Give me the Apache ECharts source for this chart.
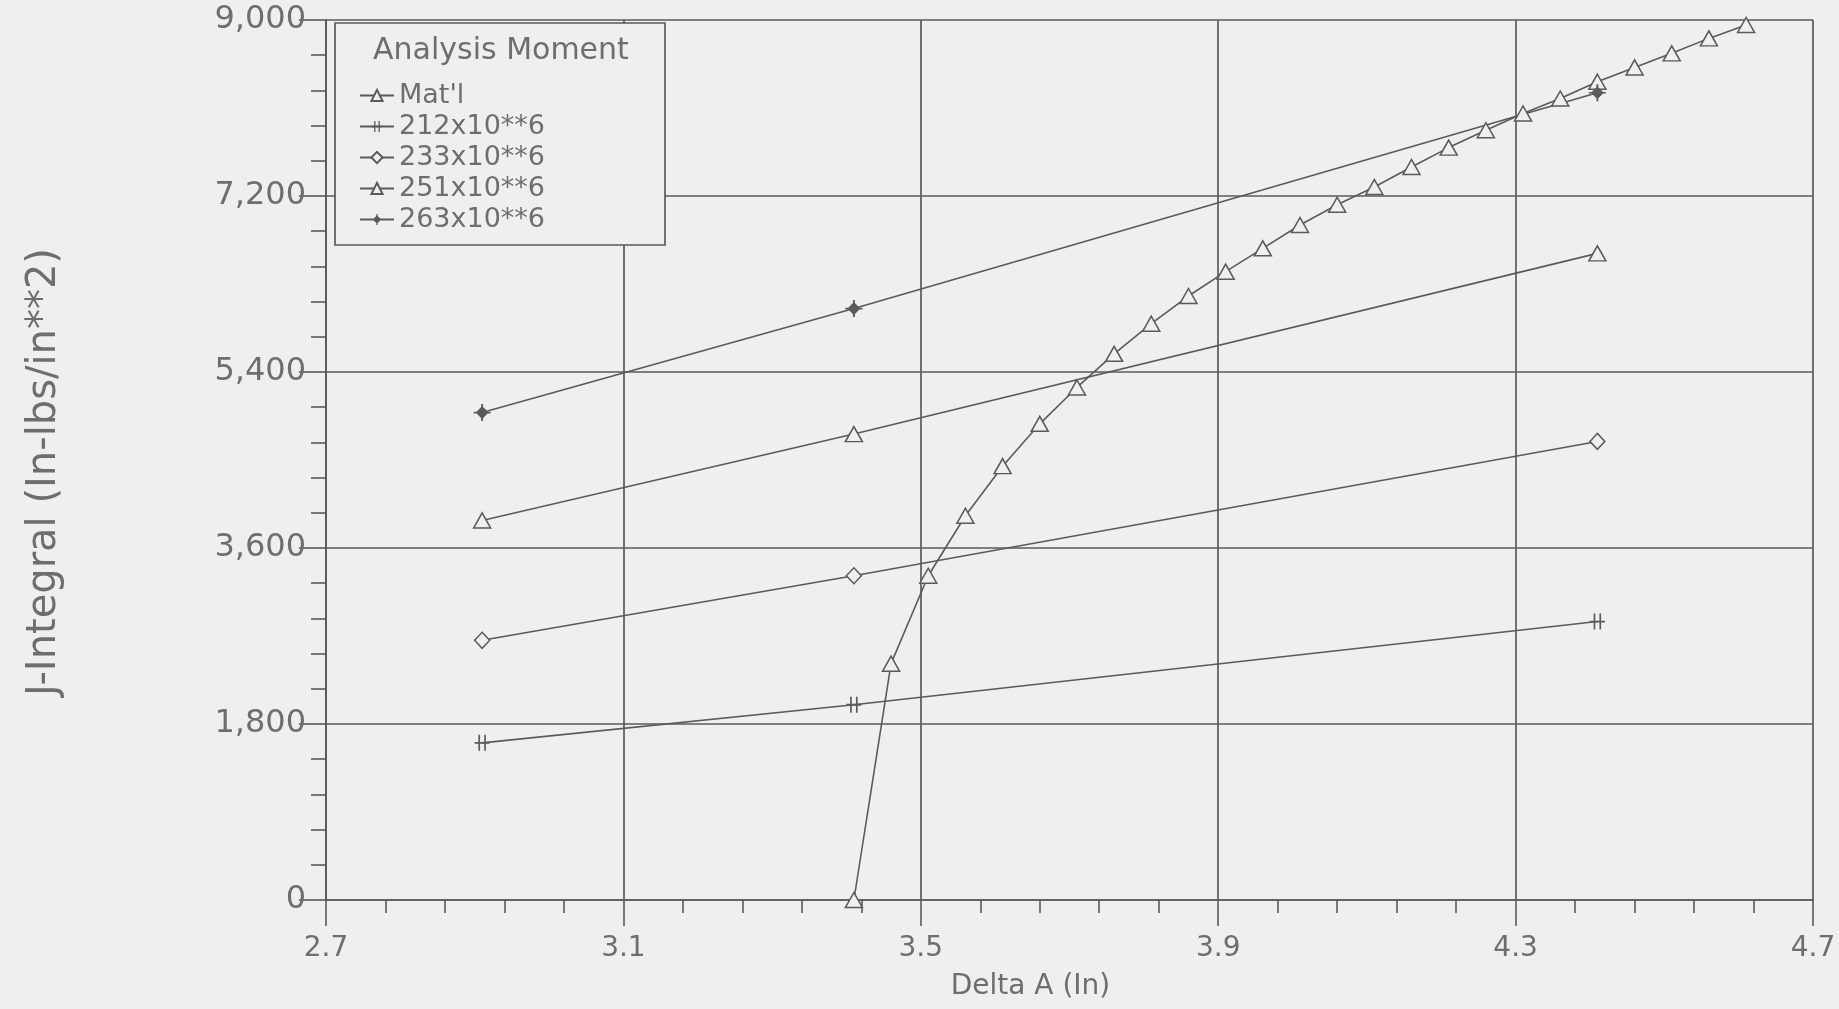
<!DOCTYPE html>
<html>
<head>
<meta charset="utf-8">
<script src="https://cdn.jsdelivr.net/npm/echarts@6/dist/echarts.min.js"></script>
<style>
html,body{margin:0;padding:0;background:#efefef;}
#chart{width:1839px;height:1009px;}
</style>
</head>
<body>
<div id="chart"></div>
<script>
// ---- data ----
const seriesNames = ["Mat'l", "212x10**6", "233x10**6", "251x10**6", "263x10**6"];
const xTicks = [2.7, 3.1, 3.5, 3.9, 4.3, 4.7];
const yTicks = [0, 1800, 3600, 5400, 7200, 9000];

const matX = [3.41, 3.46, 3.51, 3.56, 3.61, 3.66, 3.71, 3.76, 3.81, 3.86, 3.91, 3.96, 4.01,
              4.06, 4.11, 4.16, 4.21, 4.26, 4.31, 4.36, 4.41, 4.46, 4.51, 4.56, 4.61];
const matJ = [0, 2417, 3316, 3930, 4437, 4870, 5242, 5586, 5894, 6177, 6426, 6665, 6903,
              7110, 7292, 7497, 7695, 7872, 8044, 8197, 8369, 8515, 8659, 8812, 8949];

const momentX = [2.91, 3.41, 4.41];
const j212 = [1607, 1997, 2848];
const j233 = [2656, 3316, 4690];
const j251 = [3882, 4765, 6613];
const j263 = [4985, 6049, 8256];

// ---- chart ----
const BG = '#efefef';
const INK = '#5a5a5a';
const TXT = '#6e6e6e';
const FONT = '"DejaVu Sans", sans-serif';

function pairs(xs, ys) { return xs.map((x, i) => [x, ys[i]]); }

const hashPath = 'path://M-4,-8 h1.8 v16 h-1.8 Z M2.2,-8 h1.8 v16 h-1.8 Z M-8,-0.9 h16 v1.8 h-16 Z';
const crossDiamondPath = 'path://M0,-7 L6,0 L0,7 L-6,0 Z M-8,-0.9 L8,-0.9 L8,0.9 L-8,0.9 Z M-0.9,-9 L0.9,-9 L0.9,9 L-0.9,9 Z';

function lineSeries(name, data, symbol, size, filled) {
  return {
    name: name,
    type: 'line',
    data: data,
    symbol: symbol,
    symbolSize: size,
    showAllSymbol: true,
    lineStyle: { color: INK, width: 1.6 },
    itemStyle: filled
      ? { color: INK, borderWidth: 0 }
      : { color: BG, borderColor: INK, borderWidth: 1.5 },
    emphasis: { disabled: true },
    z: 2
  };
}

const chart = echarts.init(document.getElementById('chart'), null, { renderer: 'canvas' });

const option = {
  backgroundColor: BG,
  animation: false,
  textStyle: { fontFamily: FONT, color: TXT },
  grid: { left: 326, right: 26, top: 20, bottom: 109, containLabel: false },
  xAxis: {
    type: 'value',
    min: xTicks[0],
    max: xTicks[xTicks.length - 1],
    interval: 0.4,
    name: 'Delta A (In)',
    nameLocation: 'middle',
    nameGap: 73,
    nameTextStyle: { fontSize: 28, color: TXT, fontFamily: FONT, padding: [0, 78, 0, 0] },
    axisLine: { show: true, lineStyle: { color: INK, width: 1.7 } },
    axisTick: { show: true, length: 26, lineStyle: { color: INK, width: 1.6 } },
    minorTick: { show: true, splitNumber: 5, length: 13, lineStyle: { color: INK, width: 1.6 } },
    axisLabel: {
      fontSize: 28, color: TXT, margin: 35, fontFamily: FONT,
      formatter: v => Number(v).toFixed(1)
    },
    splitLine: { show: true, lineStyle: { color: INK, width: 1.7 } }
  },
  yAxis: {
    type: 'value',
    min: yTicks[0],
    max: yTicks[yTicks.length - 1],
    interval: 1800,
    name: 'J-Integral (In-lbs/in**2)',
    nameLocation: 'middle',
    nameGap: 261,
    nameTextStyle: { fontSize: 40, color: TXT, fontFamily: FONT, padding: [0, 24, 0, 0] },
    axisLine: { show: true, lineStyle: { color: INK, width: 1.7 } },
    axisTick: { show: true, length: 27, lineStyle: { color: INK, width: 1.6 } },
    minorTick: { show: true, splitNumber: 5, length: 15, lineStyle: { color: INK, width: 1.6 } },
    axisLabel: {
      fontSize: 32, color: TXT, margin: 20, fontFamily: FONT,
      formatter: v => Math.round(v).toLocaleString('en-US')
    },
    splitLine: { show: true, lineStyle: { color: INK, width: 1.7 } }
  },
  legend: {
    orient: 'vertical',
    left: 359,
    top: 82,
    padding: 0,
    itemGap: 4,
    itemWidth: 34,
    itemHeight: 14,
    textStyle: { fontSize: 27, color: TXT, fontFamily: FONT, lineHeight: 26 },
    data: seriesNames,
    selectedMode: false,
    z: 4
  },
  graphic: [
    {
      type: 'rect',
      z: 3,
      shape: { x: 335, y: 23, width: 330, height: 222 },
      style: { fill: BG, stroke: INK, lineWidth: 1.7 }
    },
    {
      type: 'text',
      z: 6,
      left: 373,
      top: 36,
      style: { text: 'Analysis Moment', font: '30px "DejaVu Sans", sans-serif', fill: TXT }
    }
  ],
  series: [
    lineSeries(seriesNames[0], pairs(matX, matJ), 'triangle', [17, 15], false),
    lineSeries(seriesNames[1], pairs(momentX, j212), hashPath, [15, 16], true),
    lineSeries(seriesNames[2], pairs(momentX, j233), 'diamond', [15, 16], false),
    lineSeries(seriesNames[3], pairs(momentX, j251), 'triangle', [17, 15], false),
    lineSeries(seriesNames[4], pairs(momentX, j263), crossDiamondPath, [17, 17], true)
  ]
};

chart.setOption(option);
</script>
</body>
</html>
